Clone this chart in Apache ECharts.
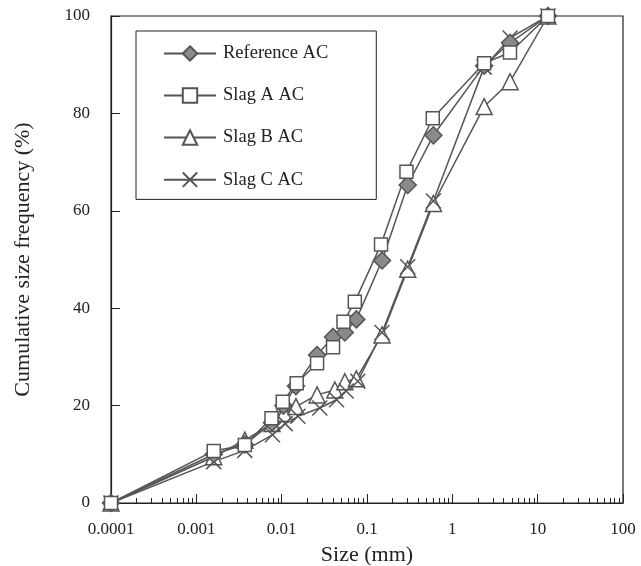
<!DOCTYPE html>
<html>
<head>
<meta charset="utf-8">
<script src="https://cdn.jsdelivr.net/npm/echarts@6/dist/echarts.min.js"></script>
<style>html,body{margin:0;padding:0;background:#fff}#c{width:641px;height:566px}</style>
</head>
<body>
<div id="c"></div>
<script>
// ---- data (size mm, cumulative %) ----
var seriesNames = ['Reference AC', 'Slag A AC', 'Slag B AC', 'Slag C AC'];
var referenceAC = [[0.0001,0],[0.0016,10],[0.0037,12],[0.0077,16.5],[0.0105,20],[0.0147,24],[0.026,30.4],[0.040,34.1],[0.055,35],[0.075,37.7],[0.15,49.8],[0.3,65.3],[0.6,75.5],[2.36,89.8],[4.75,94.5],[13.2,100]];
var slagA = [[0.0001,0],[0.0016,10.7],[0.0037,11.9],[0.0076,17.4],[0.0103,20.8],[0.015,24.6],[0.026,28.7],[0.040,32],[0.053,37.2],[0.072,41.3],[0.146,53.1],[0.29,68],[0.59,79],[2.36,90.3],[4.74,92.5],[13.2,100]];
var slagB = [[0.0001,0],[0.0016,9.5],[0.0037,12.9],[0.0077,16.3],[0.0107,18.4],[0.0147,19.8],[0.026,22.2],[0.042,23.2],[0.055,24.9],[0.075,25.5],[0.15,34.5],[0.3,48],[0.6,61.5],[2.36,81.4],[4.75,86.5],[13.2,100]];
var slagC = [[0.0001,0],[0.0016,8.5],[0.0037,10.8],[0.0078,14],[0.011,16.3],[0.0155,17.8],[0.028,19.5],[0.044,21.2],[0.057,23],[0.078,25],[0.15,35],[0.3,48.5],[0.6,62],[2.36,89.5],[4.75,95.5],[13.2,100]];
var xTickLabels = ['0.0001','0.001','0.01','0.1','1','10','100'];
var yTicks = [0,20,40,60,80,100];

var minorTicks = [];
for (var e = -4; e < 2; e++) { for (var m = 2; m <= 9; m++) { minorTicks.push(+(m * Math.pow(10, e)).toPrecision(3)); } }

var FONT = 'Liberation Serif';
var INK = '#555';
var chart = echarts.init(document.getElementById('c'), null, {renderer: 'canvas'});
function mk(name, data, symbol, size, fill) {
  return {
    name: name, type: 'line', data: data, symbol: symbol, symbolSize: size,
    showAllSymbol: true,
    lineStyle: {color: INK, width: 1.5},
    itemStyle: {color: fill, borderColor: INK, borderWidth: 1.5},
    emphasis: {disabled: true}, animation: false
  };
}
var xPath = 'path://M0,0L10,10M10,0L0,10';
chart.setOption({
  animation: false,
  backgroundColor: '#fff',
  textStyle: {fontFamily: FONT},
  grid: {left: 111, right: 18, top: 16, bottom: 63, show: true, borderColor: '#222', borderWidth: 1.2,
    containLabel: false, outerBoundsMode: 'none'},
  legend: {
    orient: 'vertical', left: 136, top: 31, data: seriesNames,
    itemWidth: 52, itemHeight: 18, itemGap: 23,
    padding: [13, 48, 10, 27],
    borderColor: '#222', borderWidth: 1,
    textStyle: {fontFamily: FONT, fontSize: 18.5, color: '#222', padding: [0, 0, 0, 2]}
  },
  xAxis: [{
    type: 'log', logBase: 10, min: 0.0001, max: 100,
    name: 'Size (mm)', nameLocation: 'middle', nameGap: 41,
    nameTextStyle: {fontFamily: FONT, fontSize: 22, color: '#222'},
    axisLine: {show: true, lineStyle: {color: '#222', width: 1.2}},
    axisTick: {show: true, inside: true, length: 9, lineStyle: {color: '#222'}},
    axisLabel: {margin: 18, fontFamily: FONT, fontSize: 17, color: '#222',
      formatter: function (v) { var i = Math.round(Math.log10(v)) + 4; return xTickLabels[i] || ''; }},
    splitLine: {show: false}
  }, {
    type: 'log', logBase: 10, min: 0.0001, max: 100, position: 'bottom', gridIndex: 0,
    axisLine: {show: false},
    axisTick: {show: true, inside: true, length: 5, customValues: minorTicks, lineStyle: {color: '#222'}},
    axisLabel: {show: false},
    splitLine: {show: false}
  }],
  yAxis: {
    type: 'value', min: 0, max: 100, interval: 20,
    name: 'Cumulative size frequency (%)', nameLocation: 'middle', nameGap: 77,
    nameTextStyle: {fontFamily: FONT, fontSize: 22, color: '#222'},
    axisLine: {show: true, lineStyle: {color: '#222', width: 1.2}},
    axisTick: {show: true, inside: true, length: 9, lineStyle: {color: '#222'}},
    axisLabel: {margin: 21, fontFamily: FONT, fontSize: 17, color: '#222'},
    splitLine: {show: false}
  },
  series: [
    mk(seriesNames[2], slagB, 'triangle', 16, '#fff'),
    mk(seriesNames[3], slagC, xPath, 15, 'none'),
    mk(seriesNames[0], referenceAC, 'diamond', 17, '#8a8a8a'),
    mk(seriesNames[1], slagA, 'rect', 13, '#fff')
  ]
});
</script>
</body>
</html>
